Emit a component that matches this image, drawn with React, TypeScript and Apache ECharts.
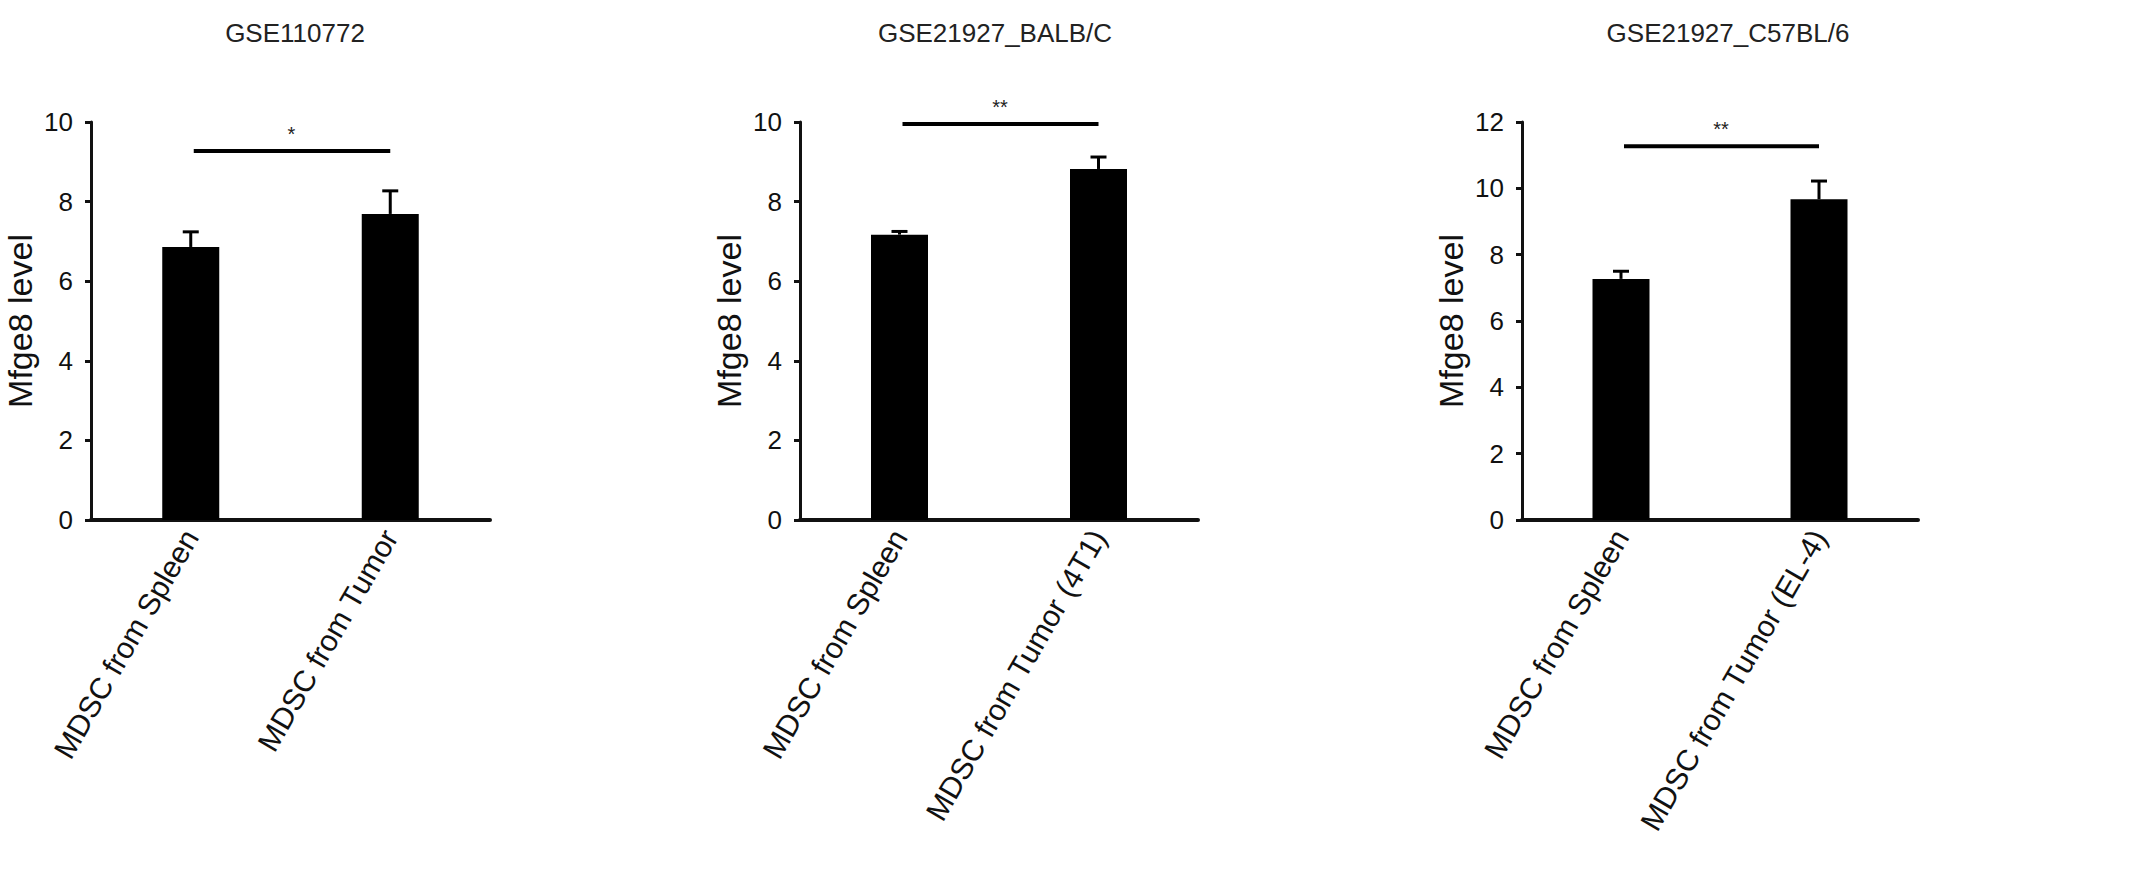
import React, { useEffect, useRef } from 'react';
import * as echarts from 'echarts';

// 数据
const titles = ['GSE110772', 'GSE21927_BALB/C', 'GSE21927_C57BL/6'];
const categories1 = ['MDSC from Spleen', 'MDSC from Tumor'];
const categories2 = ['MDSC from Spleen', 'MDSC from Tumor (4T1)'];
const categories3 = ['MDSC from Spleen', 'MDSC from Tumor (EL-4)'];
const means1 = [6.86, 7.69];
const errors1 = [0.38, 0.58];
const means2 = [7.17, 8.82];
const errors2 = [0.08, 0.3];
const means3 = [7.27, 9.67];
const errors3 = [0.23, 0.55];
const sigLevels = [9.27, 9.95, 11.27];
const sigMarks = ['*', '**', '**'];
const yMaxes = [10, 10, 12];
const yName = 'Mfge8 level';

const FONT = "'Liberation Sans', Arial, sans-serif";
const INK = '#111';

const panels = [
    { cats: categories1, means: means1, errs: errors1, left: 91, width: 399, titleX: 290 },
    { cats: categories2, means: means2, errs: errors2, left: 800, width: 398, titleX: 990 },
    { cats: categories3, means: means3, errs: errors3, left: 1522, width: 396, titleX: 1723 },
];

const App: React.FC = () => {
    const chartRef: any = useRef();

    useEffect(() => {
        const chart = echarts.init(chartRef.current, null, { renderer: 'svg' });

        const option: any = {
            animation: false,
            backgroundColor: '#fff',
            textStyle: { fontFamily: FONT, color: INK },
            title: panels.map((p, i) => ({
                text: titles[i],
                left: p.titleX,
                top: 15,
                textAlign: 'center',
                textStyle: { fontSize: 26, fontWeight: 'normal', color: '#222', fontFamily: FONT },
            })),
            grid: panels.map((p) => ({ left: p.left, top: 122, width: p.width, height: 398 })),
            xAxis: panels.map((p, i) => ({
                type: 'category',
                gridIndex: i,
                data: p.cats,
                axisLine: { lineStyle: { color: INK, width: 4 } },
                axisTick: { show: false },
                axisLabel: { rotate: 60, fontSize: 30, color: INK, margin: 12, fontFamily: FONT },
            })),
            yAxis: panels.map((p, i) => ({
                type: 'value',
                gridIndex: i,
                min: 0,
                max: yMaxes[i],
                interval: 2,
                name: yName,
                nameLocation: 'middle',
                nameGap: 54,
                nameTextStyle: { fontSize: 34, color: INK, fontFamily: FONT },
                axisLine: { show: true, lineStyle: { color: INK, width: 3 } },
                axisTick: { show: true, length: 6, lineStyle: { color: INK, width: 3 } },
                axisLabel: { fontSize: 26, color: INK, margin: 18, fontFamily: FONT },
                splitLine: { show: false },
            })),
            series: [] as any[],
        };

        panels.forEach((p, i) => {
            option.series.push({
                type: 'bar',
                xAxisIndex: i,
                yAxisIndex: i,
                data: p.means,
                barWidth: 57,
                itemStyle: { color: '#000' },
                z: 2,
            });
            // 误差线（只画上半部分）
            option.series.push({
                type: 'custom',
                xAxisIndex: i,
                yAxisIndex: i,
                data: p.means.map((m, k) => [k, m, p.errs[k]]),
                z: 3,
                renderItem: (params: any, api: any) => {
                    const k = api.value(0);
                    const m = api.value(1);
                    const e = api.value(2);
                    const base = api.coord([k, m]);
                    const top = api.coord([k, m + e]);
                    const half = 8;
                    return {
                        type: 'group',
                        children: [
                            { type: 'line', shape: { x1: base[0], y1: base[1], x2: top[0], y2: top[1] }, style: { stroke: '#000', lineWidth: 3 } },
                            { type: 'line', shape: { x1: top[0] - half, y1: top[1], x2: top[0] + half, y2: top[1] }, style: { stroke: '#000', lineWidth: 3 } },
                        ],
                    };
                },
            });
            // 显著性标记
            option.series.push({
                type: 'custom',
                xAxisIndex: i,
                yAxisIndex: i,
                data: [[sigLevels[i]]],
                z: 4,
                clip: false,
                renderItem: (params: any, api: any) => {
                    const y = api.value(0);
                    const a = api.coord([0, y]);
                    const b = api.coord([1, y]);
                    return {
                        type: 'group',
                        children: [
                            { type: 'line', shape: { x1: a[0] + 3, y1: a[1], x2: b[0], y2: b[1] }, style: { stroke: '#000', lineWidth: 4 } },
                            {
                                type: 'text',
                                x: (a[0] + b[0]) / 2 + 1,
                                y: a[1] - 17,
                                style: { text: sigMarks[i], fontSize: 20, fontFamily: FONT, fill: '#222', align: 'center', verticalAlign: 'middle' },
                            },
                        ],
                    };
                },
            });
        });

        chart.setOption(option);
        return () => {
            chart.dispose();
        };
    }, []);

    return <div ref={chartRef} style={{ position: 'absolute', left: 0, top: 0, width: 2131, height: 871 }}></div>;
};

export default App;
